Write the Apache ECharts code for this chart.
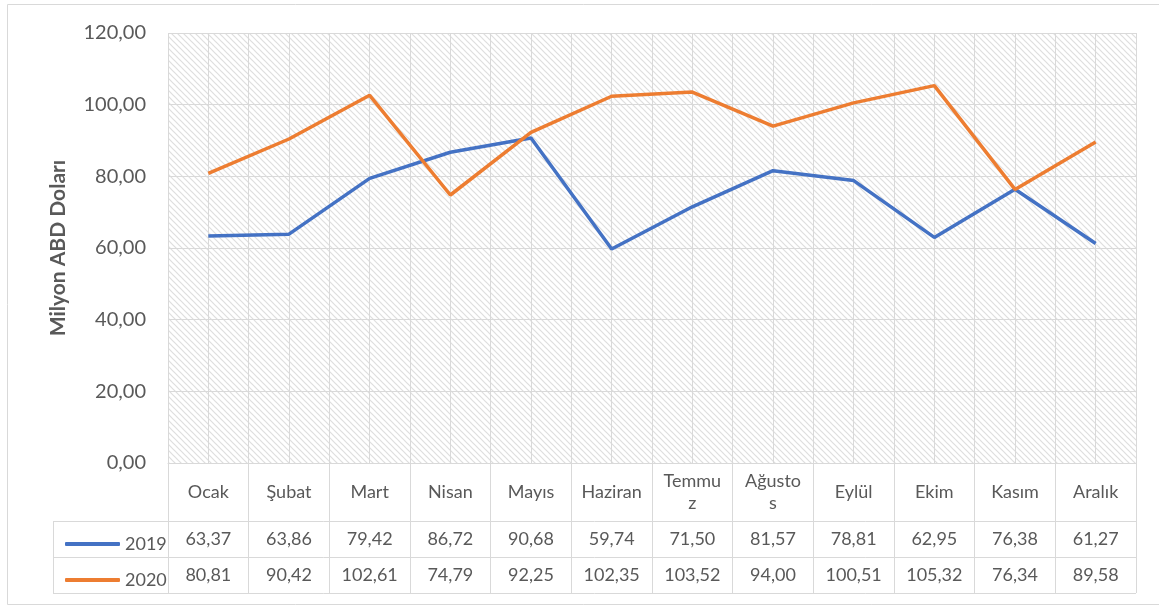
<!DOCTYPE html>
<html>
<head>
<meta charset="utf-8">
<script src="https://cdn.jsdelivr.net/npm/echarts@6/dist/echarts.min.js"></script>
<style>html,body{margin:0;padding:0;background:#fff;}#c{width:1159px;height:606px;}</style>
</head>
<body>
<div id="c"></div>
<script>
const months = ['Ocak', 'Şubat', 'Mart', 'Nisan', 'Mayıs', 'Haziran', 'Temmu\nz', 'Ağusto\ns', 'Eylül', 'Ekim', 'Kasım', 'Aralık'];
const values2019 = [63.37, 63.86, 79.42, 86.72, 90.68, 59.74, 71.50, 81.57, 78.81, 62.95, 76.38, 61.27];
const values2020 = [80.81, 90.42, 102.61, 74.79, 92.25, 102.35, 103.52, 94.00, 100.51, 105.32, 76.34, 89.58];
const seriesNames = ['2019', '2020'];
const yTicks = { min: 0, max: 120, interval: 20 };

const fmt = v => v.toFixed(2).replace('.', ',');
const FONT = 'Lato';
const TXT = '#595959';
const GRID = '#d9d9d9';

// hatch pattern
const tile = document.createElement('canvas');
tile.width = 6; tile.height = 6;
const tc = tile.getContext('2d');
tc.fillStyle = '#ffffff'; tc.fillRect(0, 0, 6, 6);
tc.strokeStyle = '#dedede'; tc.lineWidth = 1.2;
[[-6, -6], [0, 0], [6, 6], [-6, 0], [0, -6], [6, 0], [0, 6]].forEach(([dx, dy]) => {
  tc.beginPath(); tc.moveTo(dx, dy); tc.lineTo(dx + 6, dy + 6); tc.stroke();
});

const chart = echarts.init(document.getElementById('c'));
const labelBase = { fontFamily: FONT, color: TXT, fontSize: 18, interval: 0, verticalAlign: 'middle', lineHeight: 22 };
chart.setOption({
  animation: false,
  textStyle: { fontFamily: FONT },
  grid: { left: 168, right: 23, top: 33, bottom: 143, show: true, borderWidth: 0,
          backgroundColor: { image: tile, repeat: 'repeat' } },
  legend: {
    data: seriesNames, orient: 'vertical', left: 60, top: 529,
    icon: 'roundRect', itemWidth: 55, itemHeight: 4, itemGap: 16,
    textStyle: { fontFamily: FONT, fontSize: 18, color: TXT, lineHeight: 20 }
  },
  xAxis: [
    { type: 'category', data: months, boundaryGap: true, position: 'bottom',
      axisLine: { onZero: false, lineStyle: { color: GRID, width: 1 } },
      axisTick: { show: true, interval: 0, length: 130, lineStyle: { color: GRID, width: 1 } },
      axisLabel: Object.assign({ margin: 29 }, labelBase),
      splitLine: { show: false } },
    { type: 'category', data: values2019.map(fmt), boundaryGap: true, position: 'bottom',
      axisLine: { show: false }, axisTick: { show: false },
      axisLabel: Object.assign({ margin: 76 }, labelBase), splitLine: { show: false } },
    { type: 'category', data: values2020.map(fmt), boundaryGap: true, position: 'bottom',
      axisLine: { show: false }, axisTick: { show: false },
      axisLabel: Object.assign({ margin: 112 }, labelBase), splitLine: { show: false } },
    { type: 'value', min: 0, max: months.length * 2, interval: 1, position: 'top',
      axisLine: { show: false }, axisTick: { show: false }, axisLabel: { show: false },
      splitLine: { show: true, lineStyle: { color: GRID, width: 1 } } }
  ],
  yAxis: {
    type: 'value', min: yTicks.min, max: yTicks.max, interval: yTicks.interval,
    name: 'Milyon ABD Doları', nameLocation: 'middle', nameRotate: 90, nameGap: 99,
    nameTextStyle: { fontFamily: FONT, fontSize: 21, fontWeight: 'bold', color: TXT },
    axisLine: { show: false }, axisTick: { show: false },
    axisLabel: { fontFamily: FONT, fontSize: 20, color: TXT, margin: 22, formatter: v => fmt(v) },
    splitLine: { show: true, lineStyle: { color: GRID, width: 1 } }
  },
  series: [
    { name: seriesNames[0], type: 'line', data: values2019, xAxisIndex: 0, symbol: 'none',
      color: '#4472C4', lineStyle: { width: 3.5, color: '#4472C4' }, z: 3 },
    { name: seriesNames[1], type: 'line', data: values2020, xAxisIndex: 0, symbol: 'none',
      color: '#ED7D31', lineStyle: { width: 3.5, color: '#ED7D31' }, z: 4 }
  ],
  graphic: [
    { type: 'rect', shape: { x: 7.5, y: 4.5, width: 1160, height: 600 }, silent: true,
      style: { fill: 'none', stroke: GRID, lineWidth: 1 } },
    { type: 'line', shape: { x1: 53, y1: 521.5, x2: 1136, y2: 521.5 }, style: { stroke: GRID, lineWidth: 1 } },
    { type: 'line', shape: { x1: 53, y1: 557.5, x2: 1136, y2: 557.5 }, style: { stroke: GRID, lineWidth: 1 } },
    { type: 'line', shape: { x1: 53, y1: 593.5, x2: 1136, y2: 593.5 }, style: { stroke: GRID, lineWidth: 1 } },
    { type: 'line', shape: { x1: 53.5, y1: 521, x2: 53.5, y2: 594 }, style: { stroke: GRID, lineWidth: 1 } }
  ]
});
</script>
</body>
</html>
